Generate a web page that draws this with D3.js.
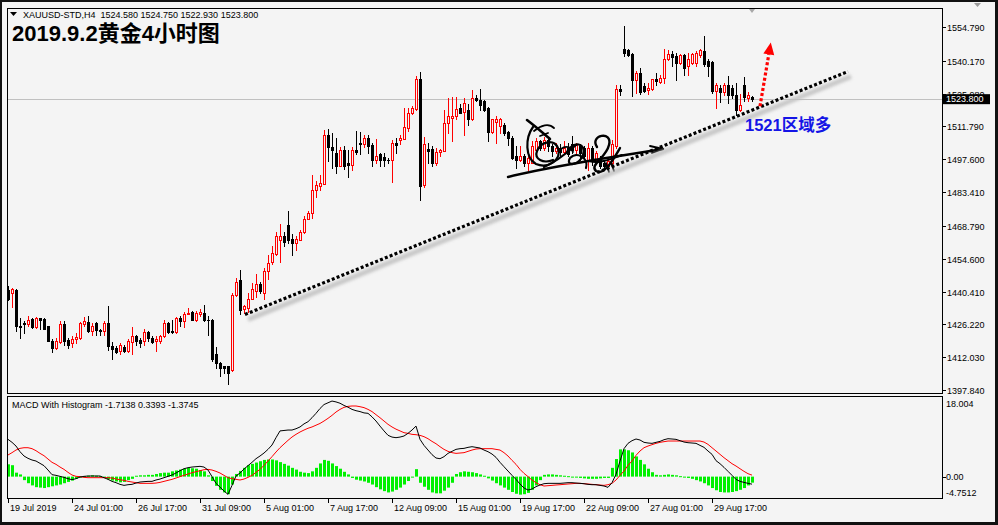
<!DOCTYPE html>
<html><head><meta charset="utf-8">
<script src="https://cdn.jsdelivr.net/npm/d3@7"></script>
<style>html,body{margin:0;padding:0;background:#111;overflow:hidden}svg{display:block}</style>
</head><body><svg id="c" width="998" height="525"></svg>
<script>
// ---------- data ----------
const symbolLine = "XAUUSD-STD,H4  1524.580 1524.750 1522.930 1523.800";
const titleText = "2019.9.2黄金4小时图";
const macdLabel = "MACD With Histogram -1.7138 0.3393 -1.3745";
const tickIdx = [0,16,32,48,64,80,96,112,128,144,160,176];
const tickLabels = ["19 Jul 2019","24 Jul 01:00","26 Jul 17:00","31 Jul 09:00","5 Aug 01:00","7 Aug 17:00","12 Aug 09:00","15 Aug 01:00","19 Aug 17:00","22 Aug 09:00","27 Aug 01:00","29 Aug 17:00"];
const priceTicks = [1554.790,1540.170,1525.980,1511.790,1497.600,1483.410,1468.790,1454.600,1440.410,1426.220,1412.030,1397.840];
const lastPrice = 1523.800;
const macdTicks = [18.004,0.00,-4.7512];

const open = [1441.0,1439.8,1441.0,1425.7,1426.9,1426.2,1428.6,1425.2,1428.8,1428.6,
1425.7,1419.2,1416.1,1418.5,1426.2,1419.4,1418.2,1419.7,1420.4,1426.2,
1427.2,1423.3,1426.9,1423.7,1423.3,1426.9,1416.8,1416.1,1414.6,1416.5,
1414.6,1418.5,1421.4,1419.4,1419.0,1423.0,1420.4,1419.0,1419.0,1421.1,
1426.9,1423.3,1422.8,1428.8,1427.6,1430.5,1431.5,1428.0,1430.5,1431.2,
1428.3,1428.3,1413.6,1409.6,1408.1,1408.1,1406.3,1438.7,1445.6,1432.7,
1433.4,1437.3,1440.6,1443.5,1439.9,1449.2,1453.1,1456.7,1462.8,1464.6,
1469.0,1463.3,1461.5,1462.9,1466.1,1471.9,1474.4,1484.2,1486.0,1487.1,
1508.3,1503.0,1500.4,1494.6,1501.5,1495.8,1495.3,1501.8,1504.7,1504.0,
1506.9,1503.6,1497.5,1499.7,1498.7,1497.5,1497.2,1504.7,1505.9,1506.4,
1511.2,1517.7,1519.4,1532.4,1486.3,1502.1,1502.1,1495.8,1500.7,1501.1,
1513.4,1515.5,1516.2,1519.8,1518.0,1519.1,1514.8,1524.2,1523.4,1523.0,
1519.8,1509.3,1513.6,1511.9,1512.6,1509.3,1506.9,1498.9,1497.2,1499.2,
1496.1,1496.1,1501.8,1505.4,1502.5,1506.1,1503.3,1501.1,1502.5,1500.7,
1502.5,1504.0,1501.5,1503.3,1502.5,1497.5,1502.5,1497.5,1497.5,1496.1,
1494.9,1495.8,1503.3,1527.8,1545.3,1544.8,1543.2,1531.8,1535.0,1529.2,
1527.5,1528.1,1532.1,1530.9,1532.8,1541.0,1542.9,1542.2,1539.3,1542.5,
1538.1,1539.3,1539.3,1542.5,1544.3,1540.0,1539.6,1527.0,1528.5,1526.6,
1529.9,1528.5,1525.6,1518.8,1529.9,1524.2,1524.58];
const high = [1442.7,1442.0,1441.3,1429.0,1427.6,1429.8,1429.0,1429.3,1429.0,1428.8,
1425.7,1419.7,1420.4,1427.6,1427.6,1420.4,1421.4,1422.6,1427.2,1429.3,
1429.8,1426.9,1427.2,1424.0,1427.6,1434.1,1418.5,1416.8,1418.0,1417.5,
1420.0,1425.2,1421.8,1420.4,1424.3,1423.3,1421.1,1421.1,1421.8,1428.3,
1427.2,1428.3,1429.3,1429.8,1431.5,1433.4,1431.9,1431.9,1433.0,1434.8,
1429.8,1428.6,1416.5,1409.9,1408.1,1408.4,1439.9,1446.3,1449.7,1434.8,
1439.9,1443.9,1448.1,1444.5,1450.7,1456.4,1460.3,1466.1,1469.8,1466.0,
1475.2,1465.1,1464.4,1467.0,1473.0,1475.2,1490.6,1488.1,1491.0,1510.2,
1510.5,1509.0,1506.9,1503.0,1503.3,1501.8,1503.0,1509.8,1509.3,1508.3,
1508.3,1504.7,1506.2,1500.4,1500.4,1498.2,1505.9,1506.9,1508.3,1519.8,
1519.8,1520.6,1533.8,1535.3,1507.3,1504.7,1503.3,1502.5,1502.1,1519.1,
1524.2,1524.6,1524.6,1521.3,1524.2,1521.3,1527.5,1525.6,1528.1,1523.4,
1520.3,1515.1,1516.5,1515.5,1513.1,1509.8,1507.6,1503.3,1503.3,1499.7,
1498.9,1505.4,1506.9,1506.1,1507.3,1506.9,1504.0,1504.7,1504.0,1505.4,
1504.7,1507.6,1504.7,1504.0,1503.3,1504.7,1503.3,1501.1,1498.9,1497.5,
1498.2,1506.1,1529.5,1529.9,1555.4,1545.3,1543.6,1535.7,1537.1,1530.4,
1530.6,1532.4,1535.0,1534.2,1545.3,1544.8,1544.3,1543.6,1543.2,1542.9,
1543.6,1543.6,1544.3,1545.3,1550.8,1541.0,1540.0,1530.6,1529.9,1530.4,
1533.5,1529.9,1530.6,1526.0,1533.2,1526.5,1524.75];
const low = [1436.7,1433.8,1423.3,1420.4,1422.6,1425.7,1424.7,1424.7,1424.3,1424.0,
1418.9,1414.2,1415.6,1418.2,1417.5,1415.8,1416.5,1418.2,1420.0,1425.4,
1422.8,1421.8,1421.8,1421.8,1421.8,1415.1,1411.3,1413.9,1413.6,1414.2,
1414.2,1413.6,1417.5,1416.5,1417.5,1419.0,1418.2,1414.6,1418.0,1420.8,
1422.6,1422.6,1422.6,1425.4,1425.2,1430.5,1428.0,1427.6,1429.8,1427.6,
1421.8,1410.3,1407.4,1403.8,1405.3,1400.6,1406.0,1438.4,1430.5,1431.2,
1431.6,1437.0,1438.1,1439.9,1437.3,1445.9,1452.5,1456.4,1453.1,1460.0,
1461.5,1456.4,1458.3,1462.6,1465.8,1471.6,1472.3,1481.4,1484.5,1486.7,
1496.8,1493.9,1491.7,1494.6,1493.2,1490.0,1492.9,1499.7,1499.7,1503.0,
1500.1,1494.6,1495.8,1494.9,1494.6,1495.8,1487.7,1500.1,1504.0,1506.2,
1509.7,1517.0,1519.1,1479.9,1485.7,1495.8,1494.6,1495.3,1498.9,1501.1,
1509.0,1505.4,1514.8,1517.4,1508.3,1512.6,1514.5,1522.7,1518.8,1518.4,
1505.4,1509.0,1504.7,1509.0,1508.3,1503.6,1497.8,1493.9,1496.8,1494.6,
1492.9,1495.8,1501.1,1501.8,1501.8,1501.1,1498.9,1500.4,1498.9,1499.7,
1498.9,1500.4,1500.4,1497.5,1497.8,1492.9,1495.3,1496.8,1493.9,1493.2,
1494.6,1494.6,1502.5,1525.6,1542.2,1542.2,1524.9,1526.3,1526.0,1526.6,
1526.0,1527.5,1529.9,1530.6,1530.6,1540.7,1537.9,1531.8,1538.6,1534.2,
1534.2,1538.6,1537.9,1541.9,1537.9,1533.5,1526.3,1519.8,1522.3,1525.2,
1522.0,1524.2,1516.9,1518.4,1522.7,1523.0,1522.93];
const close = [1437.0,1441.3,1425.4,1425.2,1426.4,1428.3,1425.2,1428.8,1428.3,1424.3,
1419.2,1416.1,1419.0,1426.2,1419.0,1417.5,1420.1,1420.8,1426.6,1427.6,
1423.3,1425.4,1423.6,1423.3,1426.9,1416.8,1415.6,1414.2,1417.1,1414.6,
1419.0,1421.4,1419.0,1418.2,1422.8,1420.4,1418.5,1419.7,1421.1,1426.9,
1422.8,1422.8,1428.8,1427.6,1430.9,1431.2,1428.0,1431.2,1431.5,1428.0,
1428.0,1411.3,1409.6,1407.4,1407.4,1405.3,1439.1,1444.5,1432.4,1434.1,
1437.3,1441.3,1443.5,1440.6,1449.5,1452.8,1457.2,1464.6,1464.6,1462.0,
1462.9,1461.2,1463.3,1466.1,1471.9,1474.4,1484.5,1486.3,1487.4,1508.3,
1503.0,1501.5,1494.6,1501.5,1494.6,1495.3,1501.8,1500.8,1504.1,1506.9,
1503.3,1497.5,1498.9,1497.1,1497.2,1497.1,1504.7,1503.8,1506.9,1511.6,
1517.7,1519.8,1532.4,1486.0,1504.0,1501.1,1495.8,1500.7,1501.5,1513.4,
1516.2,1516.5,1519.4,1517.7,1522.0,1514.8,1524.2,1523.1,1520.9,1519.1,
1509.3,1514.8,1515.1,1515.1,1509.0,1506.9,1498.2,1497.5,1498.9,1495.8,
1498.2,1503.3,1505.4,1502.5,1506.1,1503.3,1501.1,1502.5,1500.7,1502.5,
1499.7,1501.5,1503.6,1500.4,1498.9,1502.5,1496.8,1500.4,1494.6,1494.6,
1496.8,1504.0,1527.8,1527.0,1543.6,1542.5,1531.8,1534.7,1526.6,1527.0,
1528.5,1532.1,1531.4,1532.8,1541.0,1543.3,1541.9,1539.3,1542.5,1537.1,
1541.0,1542.9,1543.6,1544.8,1538.6,1537.9,1527.0,1529.9,1526.6,1529.9,
1525.6,1525.2,1518.8,1520.9,1524.6,1525.2,1523.80];

const macd = [8.48,7.80,6.96,5.67,4.69,4.16,3.78,3.55,3.02,2.49,
1.50,0.44,0.29,0.06,-0.17,-0.47,-0.70,-0.47,-0.09,0.06,
0.14,0.14,0.14,0.14,-0.24,-0.62,-1.08,-1.38,-1.76,-1.99,
-1.84,-1.76,-1.46,-1.23,-1.15,-1.08,-1.08,-0.77,-0.55,-0.24,
0.06,0.37,0.82,1.35,1.80,2.03,2.18,2.26,2.34,2.18,
1.50,0.0,-1.53,-2.37,-3.28,-4.03,-1.99,0.14,0.82,1.73,
2.49,3.25,4.08,4.69,5.37,6.20,7.19,8.86,10.4,10.5,
10.6,10.6,10.9,11.3,12.0,12.5,13.4,14.4,15.5,16.4,
16.8,17.2,17.0,16.7,16.2,15.8,15.3,15.0,14.8,14.5,
14.4,13.6,12.65,11.5,10.4,9.4,9.0,8.86,9.0,9.24,
9.85,10.6,11.5,8.48,7.11,6.05,5.0,4.23,4.08,4.54,
5.29,5.75,6.2,6.36,6.43,6.66,6.81,6.66,6.51,6.05,
5.67,5.14,4.38,3.25,2.26,1.27,0.29,-0.62,-1.68,-2.59,
-3.05,-2.82,-2.29,-1.91,-1.61,-1.53,-1.53,-1.53,-1.53,-1.46,
-1.38,-1.38,-1.46,-1.53,-1.61,-1.76,-1.84,-1.84,-1.99,-2.14,
-2.44,-1.38,0.52,3.55,6.36,7.57,8.18,8.56,8.33,7.80,
7.65,7.57,7.80,8.02,8.40,8.63,8.56,8.48,8.18,7.87,
7.72,7.65,7.57,7.11,6.66,5.83,5.07,3.63,2.94,2.11,
1.20,0.29,-0.62,-1.08,-1.31,-1.53,-1.7138];
const signal = [4.92,5.45,6.05,6.43,6.58,6.58,6.36,5.90,5.29,4.76,
4.0,3.25,2.79,2.18,1.65,0.97,0.37,0.06,0.0,-0.17,
-0.24,-0.24,-0.24,-0.24,-0.24,-0.24,-0.32,-0.55,-0.70,-0.85,
-1.08,-1.23,-1.38,-1.53,-1.53,-1.53,-1.53,-1.46,-1.31,-1.08,
-0.85,-0.62,-0.32,0.0,0.29,0.59,0.89,1.12,1.35,1.57,
1.65,1.50,1.20,0.82,0.29,-0.24,-0.47,-0.62,-0.77,-0.55,
-0.17,0.29,0.97,1.65,2.56,3.55,4.54,5.6,6.58,7.42,
8.25,9.01,9.62,10.15,10.6,11.0,11.3,11.7,12.1,12.65,
13.26,13.94,14.7,15.3,15.76,15.99,16.07,16.07,15.91,15.7,
15.3,14.8,14.1,13.4,12.65,11.9,11.3,10.8,10.4,10.0,
9.85,9.62,9.54,9.39,9.09,8.63,8.02,7.49,6.81,6.2,
5.75,5.45,5.29,5.37,5.45,5.75,6.05,6.28,6.36,6.36,
6.36,6.36,6.2,6.05,5.45,4.69,3.70,2.79,1.65,0.74,
0.0,-0.77,-1.38,-1.84,-2.14,-2.06,-1.99,-1.91,-1.84,-1.76,
-1.68,-1.61,-1.53,-1.53,-1.61,-1.68,-1.76,-1.84,-1.91,-1.99,
-1.84,-1.53,-0.77,0.29,1.27,2.56,3.55,4.84,5.83,6.58,
6.96,7.27,7.57,7.80,7.95,8.1,8.1,8.1,8.1,8.1,
8.1,8.1,8.1,8.1,7.87,7.34,6.58,5.83,5.07,4.31,
3.63,2.94,2.41,1.80,1.20,0.67,0.3393];
const hist = [2.8,2.6,0.9,0.5,-0.8,-1.5,-2.0,-2.4,-2.5,-2.6,
-2.4,-2.2,-2.0,-1.8,-1.5,-1.2,-0.9,-0.5,-0.2,0.1,
0.2,0.3,0.2,0.1,-0.3,-0.6,-0.9,-1.1,-1.3,-1.2,
-0.8,-0.5,0.2,0.3,0.3,0.4,0.4,0.6,0.8,0.9,
0.9,1.2,1.4,1.6,1.8,2.0,1.9,1.8,1.5,1.2,
0.3,-1.0,-2.1,-3.0,-3.6,-4.0,-1.8,0.6,1.3,2.0,
2.6,2.9,3.2,3.5,3.8,3.9,3.9,3.7,3.3,2.9,
2.5,2.0,1.6,1.1,0.9,0.8,1.2,2.0,3.0,3.8,
3.6,3.0,2.4,1.8,1.1,0.5,-0.3,-0.7,-0.9,-1.1,
-1.4,-1.8,-2.4,-2.9,-3.3,-3.6,-3.4,-3.0,-2.5,-1.8,
-1.0,-0.2,1.7,-1.4,-2.3,-3.0,-3.6,-3.8,-3.8,-3.2,
-2.5,-1.4,0.6,1.0,1.2,1.1,1.0,0.8,0.5,0.2,
-0.4,-0.9,-1.5,-2.0,-2.5,-3.0,-3.5,-3.9,-4.1,-4.0,
-3.7,-3.0,-2.0,-0.8,0.4,0.5,0.5,0.4,0.3,0.2,
0.1,-0.1,-0.2,-0.3,-0.4,-0.5,-0.5,-0.5,-0.4,-0.3,
-0.3,2.0,4.0,6.2,6.2,6.0,5.5,4.6,3.8,2.8,
1.8,1.0,0.4,0.3,0.4,0.5,0.4,0.3,0.1,-0.2,
-0.3,-0.5,-0.8,-1.1,-1.5,-2.0,-2.6,-3.1,-3.5,-3.6,
-3.6,-3.5,-3.3,-3.0,-2.6,-2.0,-1.3745];

// annotations (bar index / price)
const trendIdx = [59.25, 210];
const trendPrice = [1430.5, 1535.55];
const arrowIdx = [188, 190.7];
const arrowPrice = [1520.5, 1548.1];
const noteText = "1521区域多";
const noteIdx = 184.25, notePrice = 1510.0;

// ---------- layout ----------
const L = 7, R = 942, T = 8, B = 393, MT = 396, MB = 498;
const BG = "#f4f4f4";
const FONT = "'Liberation Sans', Arial, sans-serif";

const svg = d3.select("#c");
svg.append("rect").attr("x",2).attr("y",2).attr("width",993).attr("height",520).attr("fill",BG);

const x = d3.scaleLinear().domain([0, 186]).range([8, 752]);
const y = d3.scaleLinear().domain([1397.84, 1554.79]).range([390, 27]);
const ym = d3.scaleLinear().domain([-4.7512, 18.004]).range([497.5, 397.5]);

const defs = svg.append("defs");
defs.append("clipPath").attr("id","cpMain").append("rect").attr("x",L+1).attr("y",T+1).attr("width",R-L-1).attr("height",B-T-1);
defs.append("clipPath").attr("id","cpMacd").append("rect").attr("x",L+1).attr("y",MT+1).attr("width",R-L-1).attr("height",MB-MT-1);
const blur = defs.append("filter").attr("id","blur").attr("x","-10%").attr("y","-50%").attr("width","120%").attr("height","200%");
blur.append("feGaussianBlur").attr("stdDeviation",1.6);

const main = svg.append("g").attr("clip-path","url(#cpMain)");

// current price line
main.append("line").attr("x1",L).attr("x2",R).attr("y1",Math.round(y(lastPrice))+0.5).attr("y2",Math.round(y(lastPrice))+0.5)
  .attr("stroke","#c0c0c0").attr("stroke-width",1);

// candles
const idx = d3.range(open.length);
const cg = main.append("g");
idx.forEach(i => {
  const cx = Math.round(x(i));
  const up = close[i] >= open[i];
  const col = up ? "#ff0000" : "#000000";
  const yh = Math.round(y(high[i])), yl = Math.round(y(low[i]));
  cg.append("line").attr("x1",cx+0.5).attr("x2",cx+0.5).attr("y1",yh).attr("y2",yl+1).attr("stroke",col).attr("stroke-width",1);
  const top = Math.round(y(Math.max(open[i],close[i]))), bot = Math.round(y(Math.min(open[i],close[i])));
  if (up) {
    cg.append("rect").attr("x",cx-0.5).attr("y",top+0.5).attr("width",2).attr("height",Math.max(0,bot-top))
      .attr("fill",BG).attr("stroke",col).attr("stroke-width",1);
  } else {
    cg.append("rect").attr("x",cx-1).attr("y",top).attr("width",3).attr("height",Math.max(1,bot-top+1)).attr("fill",col);
  }
});

// signature (hand-drawn annotation)
const sig = main.append("g").attr("fill","none").attr("stroke","#000").attr("stroke-linecap","round").attr("stroke-linejoin","round");
[
 ["M508,177 C530,171 560,166 600,159 C625,155 645,152 663,149", 2.4],
 ["M650,146 L663,149 L652,153", 1.8],
 ["M527,120 C535,126 543,133 550,139", 2.6],
 ["M533,127 C525,138 525,158 536,164 C548,169 562,160 558,148 C554,139 541,141 537,151 C534,159 543,164 553,160", 2.2],
 ["M534,131 C541,125 549,123 554,128 M540,136 L548,133", 1.8],
 ["M544,167 C556,162 568,152 576,145", 2.2],
 ["M567,152 C573,140 587,143 583,155 C579,166 565,167 570,158 C577,151 589,158 586,168", 2.2],
 ["M561,149 C566,145 571,147 573,152", 1.8],
 ["M597,147 C589,135 613,130 609,145 C606,158 589,165 596,171 C604,176 613,160 620,148", 2.4],
 ["M589,161 C600,164 611,159 622,155", 2],
 ["M606,163 L609,172 M611,162 L614,171", 1.8]
].forEach(([d,w]) => sig.append("path").attr("d", d).attr("stroke-width", w));

// trendline shadow + dotted trendline
const tl = main.append("g");
tl.append("line").attr("x1",x(trendIdx[0])+3).attr("y1",y(trendPrice[0])+5).attr("x2",x(trendIdx[1])+3).attr("y2",y(trendPrice[1])+5)
  .attr("stroke","#bdbdbd").attr("stroke-width",5).attr("filter","url(#blur)").attr("opacity",0.8);
tl.append("line").attr("x1",x(trendIdx[0])).attr("y1",y(trendPrice[0])).attr("x2",x(trendIdx[1])).attr("y2",y(trendPrice[1]))
  .attr("stroke","#000").attr("stroke-width",3.2).attr("stroke-dasharray","3,2.2");

// red dotted arrow
{
  const x0 = x(arrowIdx[0]), y0 = y(arrowPrice[0]), x1 = x(arrowIdx[1]), y1 = y(arrowPrice[1]);
  const dx = x1-x0, dy = y1-y0, len = Math.hypot(dx,dy), ux = dx/len, uy = dy/len;
  const hl = 12, hw = 5.5;
  const bx = x1 - ux*hl, by = y1 - uy*hl;
  main.append("line").attr("x1",x0).attr("y1",y0).attr("x2",bx).attr("y2",by)
    .attr("stroke","#ff0000").attr("stroke-width",3.2).attr("stroke-dasharray","3,2.2");
  main.append("path").attr("d",`M${x1},${y1} L${bx - uy*hw},${by + ux*hw} L${bx + uy*hw},${by - ux*hw} Z`).attr("fill","#ff0000");
}

// note text
main.append("text").attr("x",x(noteIdx)).attr("y",y(notePrice)).attr("fill","#1414e6")
  .attr("font-family","'Liberation Sans','Noto Sans CJK SC',sans-serif").attr("font-weight","bold").attr("font-size",16.5)
  .text(noteText);

// ---------- MACD panel ----------
const mg = svg.append("g").attr("clip-path","url(#cpMacd)");
const z = ym(0);
idx.forEach(i => {
  const cx = Math.round(x(i));
  const yv = ym(hist[i]);
  mg.append("rect").attr("x",cx-1).attr("width",3)
    .attr("y",Math.min(yv,z)).attr("height",Math.max(1,Math.abs(yv-z))).attr("fill","#00f000");
});
const line = d3.line().x((d,i)=>x(i)).y(d=>ym(d));
mg.append("path").datum(signal).attr("d",line).attr("fill","none").attr("stroke","#ff0000").attr("stroke-width",1);
mg.append("path").datum(macd).attr("d",line).attr("fill","none").attr("stroke","#000").attr("stroke-width",1);

// ---------- frames ----------
svg.append("rect").attr("x",L+0.5).attr("y",T+0.5).attr("width",R-L).attr("height",B-T).attr("fill","none").attr("stroke","#000");
svg.append("rect").attr("x",L+0.5).attr("y",MT+0.5).attr("width",R-L).attr("height",MB-MT).attr("fill","none").attr("stroke","#000");

// ---------- price axis ----------
const ax = svg.append("g").attr("font-family",FONT).attr("font-size",9).attr("fill","#000");
priceTicks.forEach(p => {
  const yy = Math.round(y(p));
  ax.append("line").attr("x1",R).attr("x2",R+4).attr("y1",yy+0.5).attr("y2",yy+0.5).attr("stroke","#000");
  ax.append("text").attr("x",R+5).attr("y",yy+3.5).text(p.toFixed(3));
});
// current price box (covers the 1525.980 label, as in MT4)
{
  const yy = y(lastPrice);
  ax.append("rect").attr("x",R+1).attr("y",yy-4.5).attr("width",47).attr("height",10).attr("fill","#000");
  ax.append("text").attr("x",R+4).attr("y",yy+3.5).attr("fill","#fff").text(lastPrice.toFixed(3));
}
// MACD axis
const macdFmt = [v=>v.toFixed(3), v=>v.toFixed(2), v=>v.toFixed(4)];
macdTicks.forEach((v,k) => {
  let yy = ym(v);
  if (k===0) yy = 403; if (k===2) yy = 492.5;
  if (k===1) ax.append("line").attr("x1",R).attr("x2",R+4).attr("y1",Math.round(ym(v))+0.5).attr("y2",Math.round(ym(v))+0.5).attr("stroke","#000");
  ax.append("text").attr("x",R+4).attr("y",yy+3.5).text(macdFmt[k](v));
});

// ---------- time axis ----------
tickIdx.forEach((t,k) => {
  const xx = Math.round(x(t));
  ax.append("line").attr("x1",xx+0.5).attr("x2",xx+0.5).attr("y1",MB).attr("y2",MB+5).attr("stroke","#000");
  ax.append("text").attr("x",xx+2).attr("y",511).text(tickLabels[k]);
});

// ---------- texts ----------
svg.append("path").attr("d","M10,12 L17,12 L13.5,16 Z").attr("fill","#000");
svg.append("text").attr("x",23).attr("y",18).attr("font-family",FONT).attr("font-size",9)
  .style("white-space","pre").text(symbolLine);
svg.append("text").attr("x",12).attr("y",41).attr("font-family","'Liberation Sans','Noto Sans CJK SC',sans-serif")
  .attr("font-weight","bold").attr("font-size",22).attr("fill","#000").text(titleText);
svg.append("text").attr("x",12).attr("y",408).attr("font-family",FONT).attr("font-size",9).text(macdLabel);

// small chart-shift markers
svg.append("path").attr("d","M749,9 L755,9 L752,13 Z").attr("fill","#a8a8a8");
svg.append("path").attr("d","M974,3 L981,3 L977.5,7 Z").attr("fill","#9a9a9a");
</script></body></html>
